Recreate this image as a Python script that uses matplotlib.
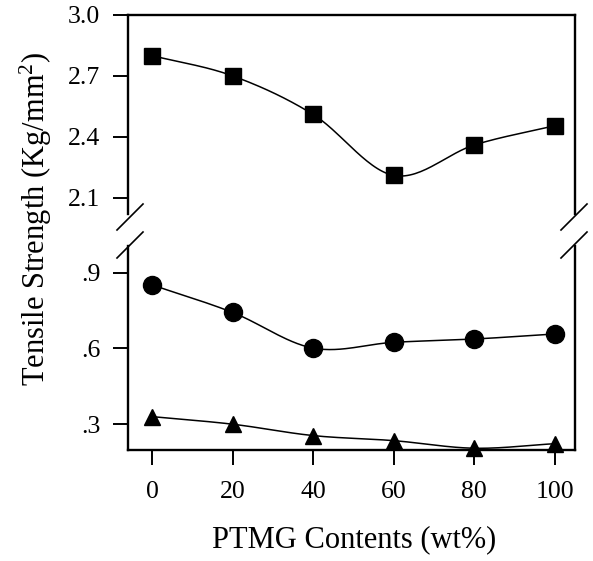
"""Tensile strength vs PTMG content, broken y-axis."""

import matplotlib
matplotlib.use("Agg")
import matplotlib.pyplot as plt
import numpy as np

plt.rcParams["font.family"] = ["Liberation Serif", "DejaVu Serif"]
plt.rcParams["mathtext.fontset"] = "custom"
plt.rcParams["mathtext.rm"] = "Liberation Serif"
plt.rcParams["mathtext.it"] = "Liberation Serif:italic"

# data
ptmg = [0, 20, 40, 60, 80, 100]
strength_square = [2.80, 2.70, 2.51, 2.21, 2.36, 2.455]
strength_circle = [0.851, 0.742, 0.601, 0.624, 0.637, 0.657]
strength_triangle = [0.33, 0.30, 0.255, 0.235, 0.205, 0.223]

x_ticks = [0, 20, 40, 60, 80, 100]
top_ticks = [2.1, 2.4, 2.7, 3.0]
top_labels = ["2.1", "2.4", "2.7", "3.0"]
bottom_ticks = [0.3, 0.6, 0.9]
bottom_labels = [".3", ".6", ".9"]


def smooth(x, y, n=30):
    """Catmull-Rom curve through the points (for the connecting line only)."""
    x = np.asarray(x, float)
    y = np.asarray(y, float)
    px = np.concatenate([[2 * x[0] - x[1]], x, [2 * x[-1] - x[-2]]])
    py = np.concatenate([[2 * y[0] - y[1]], y, [2 * y[-1] - y[-2]]])
    t = np.linspace(0, 1, n, endpoint=False)
    xs, ys = [], []
    for i in range(1, len(px) - 2):
        for p, out in ((px, xs), (py, ys)):
            p0, p1, p2, p3 = p[i - 1], p[i], p[i + 1], p[i + 2]
            out.extend(0.5 * (2 * p1 + (-p0 + p2) * t
                              + (2 * p0 - 5 * p1 + 4 * p2 - p3) * t ** 2
                              + (-p0 + 3 * p1 - 3 * p2 + p3) * t ** 3))
    xs.append(x[-1])
    ys.append(y[-1])
    return np.array(xs), np.array(ys)


W, H = 593, 561
fig = plt.figure(figsize=(W / 100, H / 100), dpi=100)


def px_axes(left, top, right, bottom):
    return fig.add_axes([left / W, 1 - bottom / H, (right - left) / W, (bottom - top) / H])


ax_top = px_axes(128, 15, 575, 214)
ax_bot = px_axes(128, 246, 575, 450)

for ax in (ax_top, ax_bot):
    ax.set_xlim(-6, 105)
    for side in ("left", "right", "top", "bottom"):
        ax.spines[side].set_linewidth(1.7)
    ax.tick_params(axis="both", direction="out", length=11, width=1.4,
                   labelsize=18.5)
    ax.tick_params(axis="y", pad=9)

ax_top.spines["bottom"].set_visible(False)
ax_bot.spines["top"].set_visible(False)

ax_top.set_ylim(2.02, 3.0)
ax_top.set_yticks(top_ticks)
ax_top.set_yticklabels(top_labels)
ax_top.set_xticks([])

ax_bot.set_ylim(0.198, 1.005)
ax_bot.set_yticks(bottom_ticks)
ax_bot.set_yticklabels(bottom_labels)
ax_bot.set_xticks(x_ticks)
ax_bot.tick_params(axis="x", pad=11)

line_kw = dict(color="black", linewidth=1.1)
mk_kw = dict(color="black", linestyle="none", zorder=3, clip_on=False)

ax_top.plot(*smooth(ptmg, strength_square), **line_kw)
ax_top.plot(ptmg, strength_square, marker="s", markersize=12, **mk_kw)

ax_bot.plot(*smooth(ptmg, strength_circle), **line_kw)
ax_bot.plot(ptmg, strength_circle, marker="o", markersize=13, **mk_kw)

ax_bot.plot(*smooth(ptmg, strength_triangle), **line_kw)
ax_bot.plot(ptmg, strength_triangle, marker="^", markersize=12, **mk_kw)

# break marks on both y spines
for xc in (130, 574):
    for yc in (217, 245):
        fig.add_artist(plt.Line2D([(xc - 13) / W, (xc + 13) / W],
                                  [1 - (yc + 13) / H, 1 - (yc - 13) / H],
                                  color="black", linewidth=1.2))

fig.text(354 / W, 1 - 540 / H, "PTMG Contents (wt%)", ha="center", va="center", fontsize=22)
fig.text(36 / W, 1 - 219 / H, "Tensile Strength (Kg/mm$^2$)", ha="center", va="center",
         rotation=90, fontsize=22)

fig.savefig("out.png", dpi=100)
